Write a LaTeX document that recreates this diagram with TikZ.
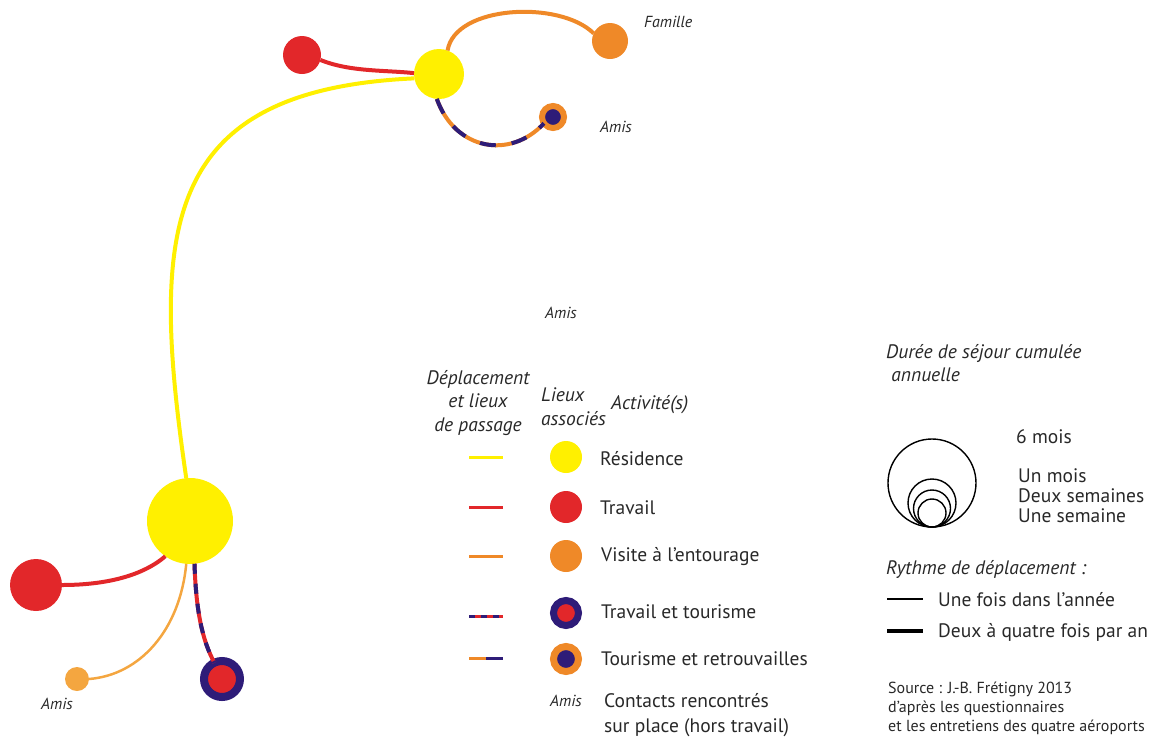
\documentclass[tikz,border=0pt]{standalone}
\usepackage{fontspec}
\setmainfont{PT Sans}
\definecolor{cyel}{RGB}{255,240,0}
\definecolor{cred}{RGB}{226,39,42}
\definecolor{cora}{RGB}{239,137,40}
\definecolor{clor}{RGB}{244,166,64}
\definecolor{cpur}{RGB}{46,28,120}
\definecolor{ctxt}{RGB}{40,40,40}
\begin{document}
\begin{tikzpicture}[x=1pt,y=-1pt,
  dot/.style={circle,inner sep=0pt,outer sep=0pt,minimum size=#1},
  ring/.style={circle,inner sep=0pt,outer sep=0pt},
  lbl/.style={inner sep=0pt,text=ctxt,font=\fontsize{19.5}{22}\selectfont},
  ilbl/.style={inner sep=0pt,text=ctxt,font=\itshape\fontsize{19.5}{23.5}\selectfont},
  small/.style={inner sep=0pt,text=ctxt,font=\itshape\fontsize{16}{18}\selectfont},
  src/.style={inner sep=0pt,text=ctxt,font=\fontsize{16}{19}\selectfont,align=left},
  link/.style={line width=4pt},
  thin/.style={line width=2.5pt},
  sizec/.style={draw=black,line width=1.4pt}
]
\useasboundingbox (0,0) rectangle (1157,740);
% ---------- map nodes ----------
\node[dot=86pt,fill=cyel] (yb) at (190,521) {};
\node[dot=50pt,fill=cyel] (yt) at (439,74) {};
\node[dot=38pt,fill=cred] (tr) at (302,55) {};
\node[dot=36pt,fill=cora] (fam) at (610,41) {};
\node[ring,minimum size=22pt,draw=cora,line width=6pt,fill=cpur] (ami) at (553,117) {};
\node[dot=52pt,fill=cred] (rb) at (36,585) {};
\node[dot=24pt,fill=clor] (ob) at (77,679) {};
\node[ring,minimum size=36pt,draw=cpur,line width=8pt,fill=cred] (pr) at (222,679) {};
\node[small,anchor=west] (tfam) at (644,22) {Famille};
\node[small,anchor=west] (tami) at (600,127) {Amis};
\node[small,anchor=west] (tami2) at (545,313) {Amis};
\node[small,anchor=west] (tami3) at (41,704) {Amis};
% ---------- map connectors ----------
\draw[link,cyel] (yb.95) .. controls (150,230) and (160,90) .. (yt.190);
\draw[link,cred] (tr.-15) .. controls (350,72) and (385,70) .. (yt.178);
\draw[link,cora] (yt.70) .. controls (455,5) and (560,0) .. (fam.155);
\draw[link,cora] (yt.265) .. controls (455,150) and (510,160) .. (ami.215);
\draw[link,cpur,dash pattern=on 16pt off 16pt] (yt.265) .. controls (455,150) and (510,160) .. (ami.215);
\draw[link,cred] (yb.235) .. controls (140,578) and (100,585) .. (rb.east);
\draw[thin,clor] (yb.265) .. controls (180,630) and (140,675) .. (ob.east);
\draw[link,cred] (yb.276) .. controls (196,610) and (202,640) .. (pr.115);
\draw[link,cpur,dash pattern=on 10pt off 10pt] (yb.276) .. controls (196,610) and (202,640) .. (pr.115);
% ---------- legend: headers ----------
\node[ilbl,align=center] (hdep) at (478,403) {Déplacement\\et lieux\\de passage};
\node[ilbl,align=left,anchor=west,font=\itshape\fontsize{19.5}{24}\selectfont] (hlieux) at (541,407) {Lieux\\associés};
\node[ilbl,anchor=west] (hact) at (611,405) {Activité(s)};
% ---------- legend rows ----------
\coordinate (l1a) at (469,457); \coordinate (l1b) at (503,457);
\coordinate (l2a) at (469,507); \coordinate (l2b) at (503,507);
\coordinate (l3a) at (469,556); \coordinate (l3b) at (503,556);
\coordinate (l4a) at (469,616); \coordinate (l4b) at (503,616);
\coordinate (l5a) at (469,658); \coordinate (l5m) at (486,658); \coordinate (l5b) at (503,658);
\draw[line width=3pt,cyel] (l1a) -- (l1b);
\draw[line width=3pt,cred] (l2a) -- (l2b);
\draw[line width=3pt,cora] (l3a) -- (l3b);
\draw[line width=3pt,cred] (l4a) -- (l4b);
\draw[line width=3pt,cpur,dash pattern=on 6pt off 6pt] (l4a) -- (l4b);
\draw[line width=3pt,cora] (l5a) -- (l5m);
\draw[line width=3pt,cpur] (l5m) -- (l5b);
\node[dot=32pt,fill=cyel] (c1) at (566,457) {};
\node[dot=32pt,fill=cred] (c2) at (566,507) {};
\node[dot=32pt,fill=cora] (c3) at (566,556) {};
\node[ring,minimum size=25pt,draw=cpur,line width=7pt,fill=cred] (c4) at (566,613) {};
\node[ring,minimum size=25pt,draw=cora,line width=7pt,fill=cpur] (c5) at (566,659) {};
\node[lbl,anchor=west] (t1) at (600,459) {Résidence};
\node[lbl,anchor=west] (t2) at (600,508) {Travail};
\node[lbl,anchor=west] (t3) at (601,557) {Visite à l’entourage};
\node[lbl,anchor=west] (t4) at (601,612) {Travail et tourisme};
\node[lbl,anchor=west] (t5) at (601,659) {Tourisme et retrouvailles};
\node[small,anchor=west] (t6a) at (550,701) {Amis};
\node[lbl,anchor=west,align=left,font=\fontsize{19.5}{25}\selectfont] (t6) at (604,715) {Contacts rencontrés\\sur place (hors travail)};
% ---------- size legend ----------
\node[ilbl,anchor=west,align=left] (hdur) at (886,363) {Durée de séjour cumulée\\\ annuelle};
\coordinate (sb) at (932,527);
\draw[sizec] (sb) ++(0,-44) circle [radius=44];
\draw[sizec] (sb) ++(0,-24) circle [radius=24];
\draw[sizec] (sb) ++(0,-18.5) circle [radius=18.5];
\draw[sizec] (sb) ++(0,-14) circle [radius=14];
\node[lbl,anchor=west] (s1) at (1016,437) {6 mois};
\node[lbl,anchor=west,align=left,font=\fontsize{19.5}{20}\selectfont] (s2) at (1018,496) {Un mois\\Deux semaines\\Une semaine};
% ---------- rhythm legend ----------
\node[ilbl,anchor=west] (hry) at (886,569) {Rythme de déplacement :};
\coordinate (r1a) at (887,599); \coordinate (r1b) at (923,599);
\coordinate (r2a) at (887,631); \coordinate (r2b) at (923,631);
\draw[line width=2pt,black] (r1a) -- (r1b);
\draw[line width=4pt,black] (r2a) -- (r2b);
\node[lbl,anchor=west] (r1) at (938,600) {Une fois dans l’année};
\node[lbl,anchor=west] (r2) at (938,632) {Deux à quatre fois par an};
% ---------- source ----------
\node[src,anchor=west] (source) at (888,708) {Source : J.-B. Frétigny 2013\\d’après les questionnaires\\et les entretiens des quatre aéroports};
\end{tikzpicture}
\end{document}
